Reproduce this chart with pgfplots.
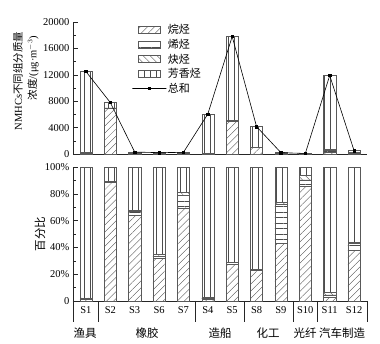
\documentclass[border=0pt]{standalone}
\usepackage{pgfplots}
\pgfplotsset{compat=1.18}
\usepackage{pgfplotstable}
\usetikzlibrary{patterns.meta}
\usepackage{fontspec}
\setmainfont{Liberation Serif}
\newfontfamily\cjk{Noto Sans CJK SC}

\pgfplotstableread{
x tot alk ene yne aro
0 12500 125 100 62 12213
1 7800 6903 78 0 819
2 300 191 9 2 98
3 200 64 4 2 130
4 250 174 24 5 47
5 6050 60 48 42 5900
6 17800 4913 178 0 12709
7 4150 955 41 0 3154
8 200 86 58 4 52
9 80 68 4 3 5
10 11900 321 214 202 11163
11 500 190 28 2 280
}\abs

\pgfplotstableread{
x alk ene yne aro
0 1.0 0.8 0.5 97.7
1 88.5 1.0 0.0 10.5
2 63.7 3.0 0.7 32.6
3 31.8 2.0 1.2 65.0
4 69.6 9.7 1.8 18.9
5 1.0 0.8 0.7 97.5
6 27.6 1.0 0.0 71.4
7 23.0 1.0 0.0 76.0
8 43.0 29.0 2.0 26.0
9 85.3 5.0 3.7 6.0
10 2.7 1.8 1.7 93.8
11 38.0 5.5 0.5 56.0
}\pct

\pgfplotsset{
  boxleg/.style={legend image code/.code={\draw[##1] (0pt,-3.5pt) rectangle (22pt,3.5pt);}},
  lineleg/.style={legend image code/.code={\draw[mark repeat=2,mark phase=2,##1] plot coordinates {(0pt,0pt) (11pt,0pt) (22pt,0pt)};}},
  salk/.style={boxleg, draw=black!65, line width=0.4pt, pattern={Lines[angle=45,distance=5pt,line width=0.35pt]}, pattern color=black!70},
  sene/.style={boxleg, draw=black!65, line width=0.4pt, pattern={Lines[angle=0,distance=5.5pt,line width=0.35pt]}, pattern color=black!70},
  syne/.style={boxleg, draw=black!65, line width=0.4pt, pattern={Lines[angle=-45,distance=5pt,line width=0.35pt]}, pattern color=black!70},
  saro/.style={boxleg, draw=black!65, line width=0.4pt, pattern={Lines[angle=90,distance=6pt,line width=0.35pt]}, pattern color=black!70},
  base/.style={scale only axis, width=294pt, xmin=-0.53, xmax=11.53,
    axis lines=left, axis line style={-, black!85}, tick align=inside,
    major tick length=5pt, minor tick length=3pt, tick style={black!85},
    ticklabel style={font=\fontsize{10.5}{12}\selectfont}, clip=false},
}

\begin{document}
\begin{tikzpicture}[x=1pt,y=1pt]
\useasboundingbox (0,0) rectangle (380,344);

\begin{axis}[base, at={(73pt,190pt)}, anchor=south west, height=132pt,
  ymin=0, ymax=20000, ytick={0,4000,8000,12000,16000,20000},
  yticklabels={0,4000,8000,12000,16000,20000}, minor y tick num=1,
  scaled y ticks=false,
  xtick=\empty, ybar stacked, bar width=0.5,
  legend style={draw=none, fill=none, at={(0.2,0.985)}, anchor=north west,
    font=\cjk\fontsize{11}{12}\selectfont, inner sep=0pt, row sep=2.8pt,
    nodes={inner xsep=1pt, inner ysep=0.5pt}},
  legend cell align=left]
\addplot[salk] table[x=x,y=alk]{\abs};
\addlegendentry{烷烃}
\addplot[sene] table[x=x,y=ene]{\abs};
\addlegendentry{烯烃}
\addplot[syne] table[x=x,y=yne]{\abs};
\addlegendentry{炔烃}
\addplot[saro] table[x=x,y=aro]{\abs};
\addlegendentry{芳香烃}
\addlegendimage{lineleg, black, line width=0.6pt, mark=square*, mark size=1.2pt}
\addlegendentry{总和}
\end{axis}

\begin{axis}[at={(73pt,190pt)}, anchor=south west, scale only axis, width=294pt, height=132pt,
  xmin=-0.53, xmax=11.53, ymin=0, ymax=20000, axis lines=none, clip=false]
\addplot[black, line width=0.6pt, mark=square*, mark size=1.2pt] table[x=x,y=tot]{\abs};
\end{axis}

\begin{axis}[base, at={(73pt,43pt)}, anchor=south west, height=134pt,
  ymin=0, ymax=100, ytick={0,20,40,60,80,100},
  yticklabels={0,20\%,40\%,60\%,80\%,100\%}, minor y tick num=1,
  xtick={0,...,11}, xticklabels={S1,S2,S3,S6,S7,S4,S5,S8,S9,S10,S11,S12},
  x tick style={draw=none}, xticklabel style={yshift=-2pt},
  ybar stacked, bar width=0.5]
\addplot[salk] table[x=x,y=alk]{\pct};
\addplot[sene] table[x=x,y=ene]{\pct};
\addplot[syne] table[x=x,y=yne]{\pct};
\addplot[saro] table[x=x,y=aro]{\pct};
\draw[black!85] (axis cs:-0.53,0) -- ++(0pt,-21pt);
\draw[black!85] (axis cs:0.5,0) -- ++(0pt,-21pt);
\draw[black!85] (axis cs:4.5,0) -- ++(0pt,-21pt);
\draw[black!85] (axis cs:6.5,0) -- ++(0pt,-21pt);
\draw[black!85] (axis cs:8.5,0) -- ++(0pt,-21pt);
\draw[black!85] (axis cs:9.5,0) -- ++(0pt,-21pt);
\draw[black!85] (axis cs:11.53,0) -- ++(0pt,-21pt);
\end{axis}

\node[rotate=90, font=\fontsize{10.5}{12}\selectfont] at (18,263) {NMHCs{\cjk 不同组分质量}};
\node[rotate=90, font=\fontsize{10.5}{12}\selectfont] at (33,276) {{\cjk 浓度}/(μg·m$^{-3}$)};
\node[rotate=90, font=\cjk\fontsize{11.5}{13}\selectfont] at (40,110) {百分比};

\begin{scope}[font=\cjk\fontsize{11.5}{13}\selectfont]
\node at (85,11) {渔具};
\node at (147,11) {橡胶};
\node at (220,11) {造船};
\node at (268,11) {化工};
\node at (305,11) {光纤};
\node at (342,11) {汽车制造};
\end{scope}
\end{tikzpicture}
\end{document}
